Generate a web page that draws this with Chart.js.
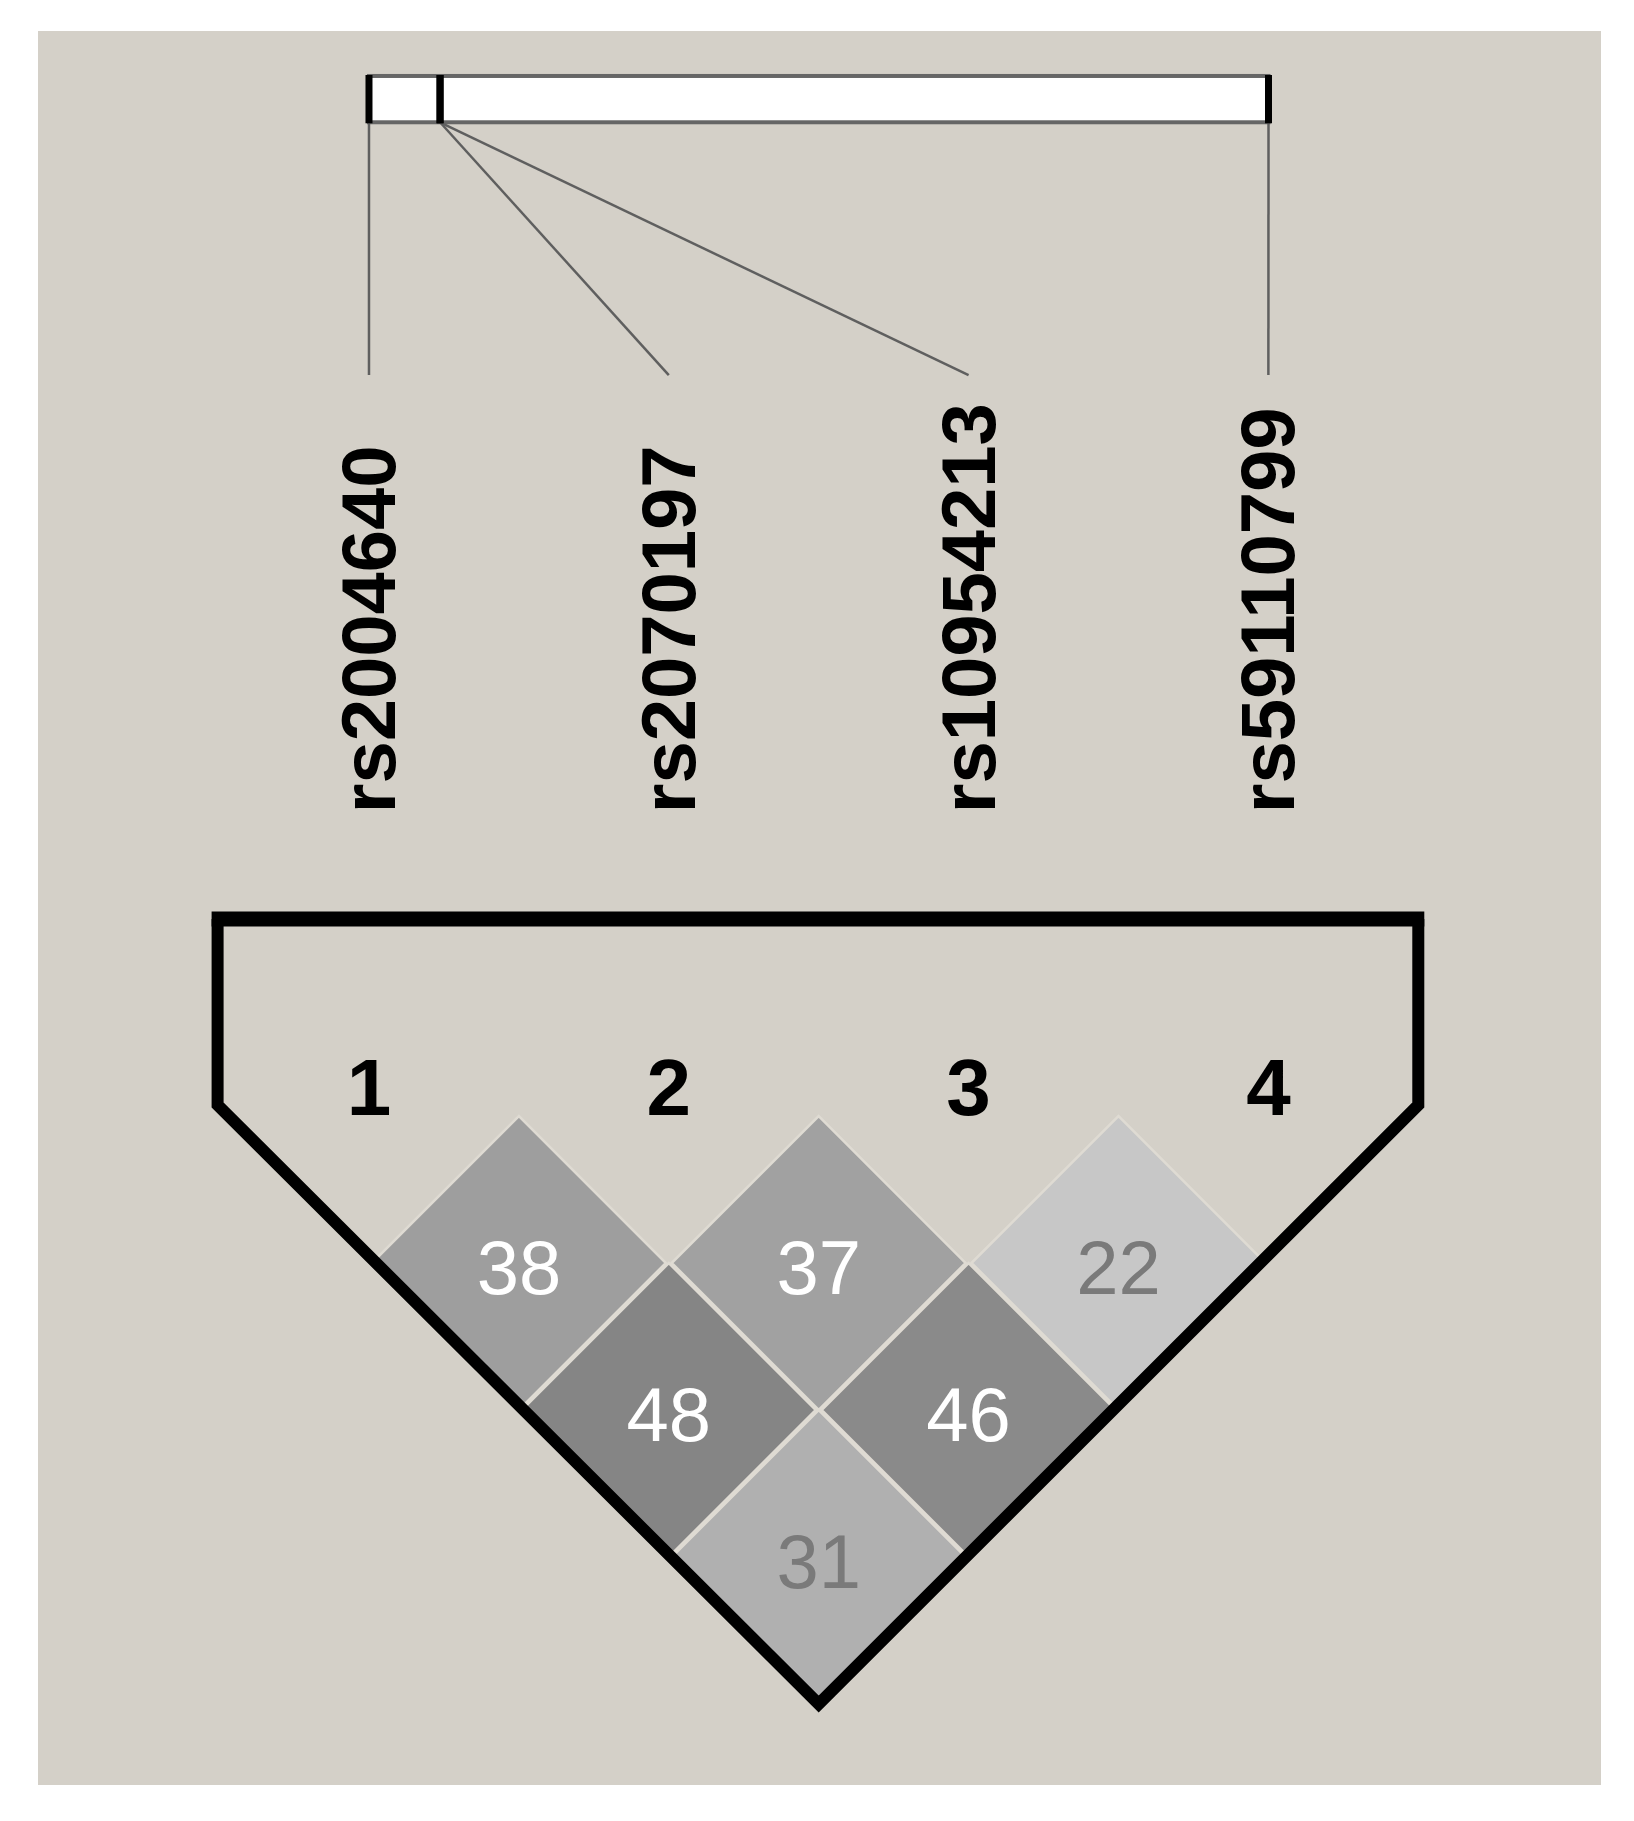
<!DOCTYPE html>
<html>
<head>
<meta charset="utf-8">
<script src="https://cdn.jsdelivr.net/npm/chart.js@4/dist/chart.umd.min.js"></script>
<style>
  body { margin: 0; background: #ffffff; }
  canvas { display: block; }
</style>
</head>
<body>
<canvas id="ld-chart" width="1634" height="1821"></canvas>
<script>
// SNPs, in map order
const snpNames = ['rs2004640', 'rs2070197', 'rs10954213', 'rs59110799'];
const snpNumbers = ['1', '2', '3', '4'];
// relative position of each SNP along the mapped region (% of region length)
const snpMapPos = [0, 7.9, 7.9, 100];

// pairwise LD (r2 x 100), one entry per cell
const pairFirst = [1, 2, 3, 1, 2, 1];
const pairSecond = [2, 3, 4, 3, 4, 4];
const r2Values = [38, 37, 22, 48, 46, 31];

const panelColor = '#d4d0c8';
const fontFamily = '"Liberation Sans", Arial, sans-serif';

function cellGray(r2) {
    const v = Math.round(255 * (1 - r2 / 100));
    return `rgb(${v}, ${v}, ${v})`;
}

const n = snpNames.length;

// cells sit on a diamond grid: x = midpoint of the two SNP columns, y = distance between them
const cellPoints = pairFirst.map((a, k) => ({
    x: ((a - 1) + (pairSecond[k] - 1)) / 2,
    y: pairSecond[k] - a
}));

// block outline around the triangle, built from the SNP count
const outlineSide = [
    {x: -0.505, y: -1.34},
    {x: -0.505, y: -0.075},
    {x: (n - 1) / 2, y: n},
    {x: n - 0.5, y: -0.075},
    {x: n - 0.5, y: -1.34}
];
const outlineTop = [
    {x: -0.525, y: -1.34},
    {x: n - 0.48, y: -1.34}
];

// vertical layout of the map part (in y-scale units)
const mapBarTop = -7.075;
const mapBarBottom = -6.76;
const connectorBottom = -5.04;
const labelStart = -2.06;

const backgroundPlugin = {
    id: 'background',
    beforeDraw(chart) {
        const c = chart.ctx;
        c.save();
        c.fillStyle = '#ffffff';
        c.fillRect(0, 0, chart.width, chart.height);
        c.fillStyle = panelColor;
        c.fillRect(38, 31, 1563, 1754);
        c.restore();
    }
};

const mapPlugin = {
    id: 'snpMap',
    beforeDatasetsDraw(chart) {
        const c = chart.ctx;
        const xs = chart.scales.x;
        const xm = chart.scales.xMap;
        const ys = chart.scales.y;
        const top = ys.getPixelForValue(mapBarTop);
        const bottom = ys.getPixelForValue(mapBarBottom);
        const left = xm.getPixelForValue(0);
        const right = xm.getPixelForValue(100);
        c.save();
        // region bar
        c.fillStyle = '#ffffff';
        c.fillRect(left, top, right - left, bottom - top);
        c.strokeStyle = '#666666';
        c.lineWidth = 4;
        c.strokeRect(left, top, right - left, bottom - top);
        // connectors from the bar to each SNP column
        c.strokeStyle = '#5f5f5f';
        c.lineWidth = 2.5;
        const lineEnd = ys.getPixelForValue(connectorBottom);
        snpMapPos.forEach((p, i) => {
            c.beginPath();
            c.moveTo(xm.getPixelForValue(p), bottom);
            c.lineTo(xs.getPixelForValue(i), lineEnd);
            c.stroke();
        });
        // SNP marks on the bar
        c.strokeStyle = '#000000';
        c.lineWidth = 7;
        snpMapPos.forEach(p => {
            const px = xm.getPixelForValue(p);
            c.beginPath();
            c.moveTo(px, top - 1);
            c.lineTo(px, bottom + 1);
            c.stroke();
        });
        // SNP names, rotated
        c.fillStyle = '#000000';
        c.font = `bold 76px ${fontFamily}`;
        c.textAlign = 'left';
        c.textBaseline = 'alphabetic';
        snpNames.forEach((name, i) => {
            c.save();
            c.translate(xs.getPixelForValue(i) + 26, ys.getPixelForValue(labelStart));
            c.rotate(-Math.PI / 2);
            c.fillText(name, 0, 0);
            c.restore();
        });
        // SNP numbers above the LD triangle
        c.font = `bold 80px ${fontFamily}`;
        c.textAlign = 'center';
        snpNumbers.forEach((num, i) => {
            c.fillText(num, xs.getPixelForValue(i), ys.getPixelForValue(0) - 1);
        });
        c.restore();
    }
};

const cellTextPlugin = {
    id: 'cellText',
    afterDatasetsDraw(chart) {
        const c = chart.ctx;
        const meta = chart.getDatasetMeta(2);
        c.save();
        c.font = `76px ${fontFamily}`;
        c.textAlign = 'center';
        c.textBaseline = 'alphabetic';
        meta.data.forEach((el, k) => {
            c.fillStyle = r2Values[k] >= 35 ? '#ffffff' : '#7a7a7a';
            c.fillText(String(r2Values[k]), el.x, el.y + 31);
        });
        c.restore();
    }
};

const ctx = document.getElementById('ld-chart').getContext('2d');
const chart = new Chart(ctx, {
    type: 'scatter',
    data: {
        datasets: [
            {
                // outline top edge
                data: outlineTop,
                showLine: true,
                pointRadius: 0,
                borderColor: '#000000',
                borderWidth: 15,
                borderCapStyle: 'butt',
                order: 0
            },
            {
                // outline sides
                data: outlineSide,
                showLine: true,
                pointRadius: 0,
                borderColor: '#000000',
                borderWidth: 12,
                borderJoinStyle: 'miter',
                borderCapStyle: 'butt',
                order: 1
            },
            {
                label: 'r2',
                data: cellPoints,
                pointStyle: 'rectRot',
                pointRadius: 147,
                pointHoverRadius: 147,
                backgroundColor: r2Values.map(cellGray),
                borderColor: '#dfdbd3',
                borderWidth: 2.5,
                order: 2
            }
        ]
    },
    options: {
        responsive: false,
        animation: false,
        events: [],
        layout: { padding: 0, autoPadding: false },
        plugins: {
            legend: { display: false },
            tooltip: { enabled: false }
        },
        scales: {
            x: { type: 'linear', display: false, min: -1.2308, max: 4.2195 },
            xMap: { type: 'linear', axis: 'x', display: false, min: -41.02, max: 140.63 },
            y: { type: 'linear', display: false, reverse: true, min: -7.5918, max: 4.7959 }
        }
    },
    plugins: [backgroundPlugin, mapPlugin, cellTextPlugin]
});
</script>
</body>
</html>
